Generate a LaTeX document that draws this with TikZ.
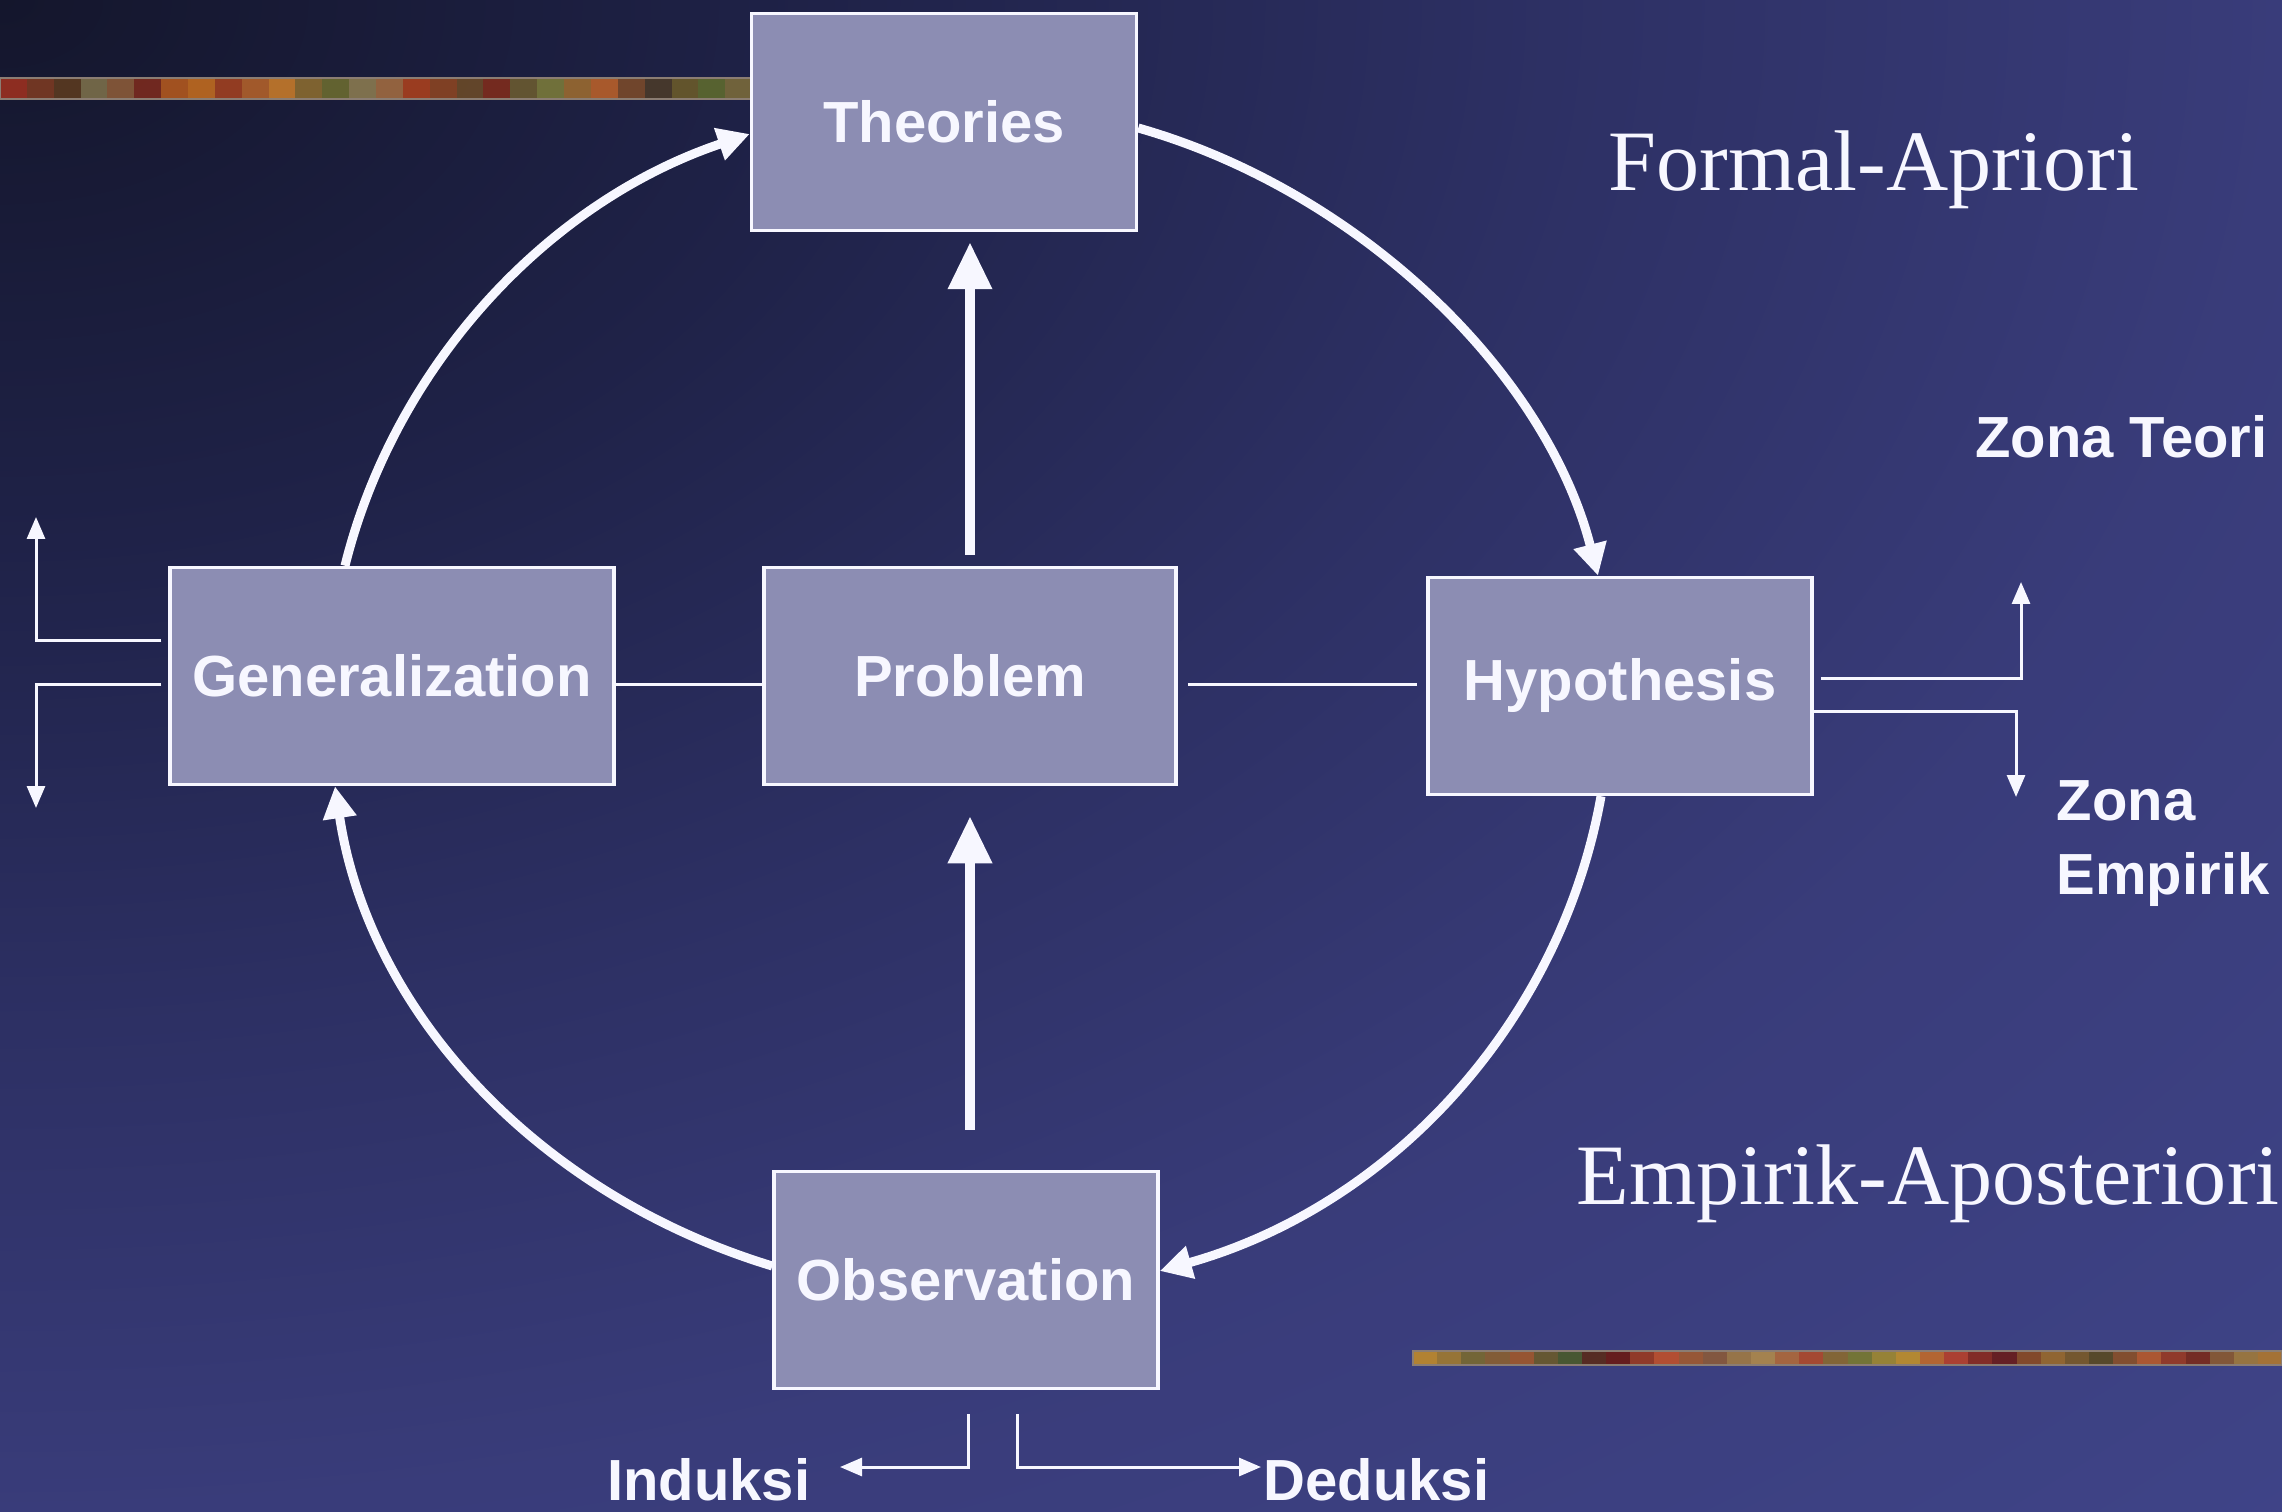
\documentclass[tikz,border=0pt]{standalone}
\usepackage{fontspec}
\setmainfont{Liberation Serif}
\setsansfont{Liberation Sans}
\usetikzlibrary{arrows.meta}
\definecolor{boxfill}{HTML}{8C8DB3}
\definecolor{ink}{HTML}{F7F7FF}
\definecolor{bgA}{HTML}{14162C}
\definecolor{bgB}{HTML}{1F2248}
\definecolor{bgC}{HTML}{2D3064}
\definecolor{bgD}{HTML}{393C7A}
\definecolor{bgE}{HTML}{3F4488}
\definecolor{stripeedge}{HTML}{8B7D73}
\pgfdeclareradialshading{bgshade}{\pgfpoint{0bp}{0bp}}{color(0bp)=(bgA); color(9bp)=(bgB); color(17bp)=(bgC); color(25bp)=(bgD); color(36bp)=(bgE); color(50bp)=(bgE)}

\begin{document}
\begin{tikzpicture}[x=0.1mm, y=-0.1mm,
    box/.style={draw=ink, line width=0.35mm, fill=boxfill, text=ink, minimum height=21.7mm, inner sep=0pt,
        font=\sffamily\bfseries\fontsize{16.5}{21}\selectfont},
    lbl/.style={text=ink, inner sep=0pt, font=\sffamily\bfseries\fontsize{16.5}{21}\selectfont},
    big/.style={text=ink, inner sep=0pt, font=\rmfamily\fontsize{24.5}{29}\selectfont},
    ring/.style={draw=ink, line width=0.9mm, -{Triangle[length=3.2mm, width=3.2mm]}},
    upar/.style={draw=ink, line width=1mm, -{Triangle[length=4.7mm, width=4.2mm]}},
    link/.style={draw=ink, line width=0.3mm},
    zone/.style={link, -{Triangle[length=2.2mm, width=1.8mm]}}]
    \useasboundingbox (0,0) rectangle (2282,1512);
    \begin{scope}
        \clip (0,0) rectangle (2282,1512);
        \shade[shading=bgshade] (-2282,-1512) rectangle (2282,1512);
    \end{scope}
    \foreach \c [count=\i from 0] in {9A3020,7A3A22,5A3A20,7A6E4A,8A5A38,7A2A1E,B0581E,C06A20,A04020,B0602A,C57A2A,8A6A30,6A6A30,8A7A50,A06A40,A8401E,8A4422,6A4A28,7E2C1C,6A5A30,7A7A3A,9A6A30,B8602A,7A4A2A,4A3A2A,6A5A2A,5E6A2E,7A6A3A}
        {\definecolor{seg}{HTML}{\c}\fill[seg, opacity=0.9] (\i*26.86,78) rectangle ++(26.86,21);}
    \draw[stripeedge, line width=0.25mm] (0,78) rectangle (752,99);
    \foreach \c [count=\i from 0] in {C08A2A,A07A30,7A6A30,8A6030,A0582A,6A5A2A,4A5A2A,5A2A1A,6A1A14,9A3A20,C0502A,A05A30,8A5A3A,A07A44,B08A4A,B06A3A,B04A2A,8A6A30,7A7A30,A08A30,C0902A,C06A2A,B8402A,8A2A1E,6A1C1A,8A4A22,9A6A2A,7A5A28,5A4A22,8A5028,B85A2A,9A3A22,7A2A1A,8A5A30,A07A3A,B0782E}
        {\definecolor{seg}{HTML}{\c}\fill[seg, opacity=0.9] (1413+\i*24.14,1351) rectangle ++(24.14,14);}
    \draw[stripeedge, line width=0.2mm] (1413,1351) rectangle (2282,1365);

    \node[box, minimum width=38.5mm] (theo) at (944,122) {Theories};
    \node[box, minimum width=41.2mm] (prob) at (970,676) {Problem};
    \node[box, minimum width=44.4mm] (gen) at (392,676) {Generalization};
    \node[box, minimum width=38.4mm] (hyp) at (1620,686) {Hypothesis};
    \node[box, minimum width=38.4mm] (obs) at (966,1280) {Observation};

    \node[big, anchor=base] (fa) at (1874,191) {Formal-Apriori};
    \node[big, anchor=base] (ea) at (1928,1204) {Empirik-Aposteriori};
    \node[lbl, anchor=base east] (zt) at (2268,458) {Zona Teori};
    \node[lbl, anchor=north west, align=left] (ze) at (2056,780) {Zona\\Empirik};
    \node[lbl, anchor=base east] (ind) at (811,1500) {Induksi};
    \node[lbl, anchor=base west] (ded) at (1263,1500) {Deduksi};

    \coordinate (gup) at (36,517);
    \coordinate (gdn) at (36,808);
    \coordinate (hup) at (2021,582);
    \coordinate (hdn) at (2016,797);
    \coordinate (itip) at (840,1467);
    \coordinate (dtip) at (1261,1467);

    \draw[ring] ([xshift=-4.7mm]gen.north) .. controls +(49,-197) and +(-205,69) .. ([yshift=-1.2mm]theo.west);
    \draw[ring] ([yshift=-0.6mm]theo.east) .. controls +(218,62) and +(-53,-206) .. ([xshift=-2.2mm]hyp.north);
    \draw[ring] ([xshift=-1.9mm]hyp.south) .. controls +(-40,224) and +(234,-66) .. ([yshift=0.9mm]obs.east);
    \draw[ring] ([yshift=1.4mm]obs.west) .. controls +(-234,-71) and +(34,226) .. ([xshift=-5.7mm]gen.south);

    \draw[upar, shorten <=1.1mm, shorten >=1mm] (prob.north) -- (prob.north |- theo.south);
    \draw[upar, shorten <=4mm, shorten >=3mm] (obs.north -| prob.south) -- (prob.south);

    \draw[link] ([yshift=-0.8mm]gen.east) -- ([yshift=-0.8mm]prob.west);
    \draw[link, shorten <=1mm, shorten >=0.9mm] ([yshift=-0.8mm]prob.east) -- ([yshift=-0.8mm]prob.east -| hyp.west);

    \draw[zone] ([xshift=-0.7mm, yshift=3.6mm]gen.west) -| (gup);
    \draw[zone] ([xshift=-0.7mm, yshift=-0.8mm]gen.west) -| (gdn);
    \draw[zone] ([xshift=0.7mm, yshift=0.8mm]hyp.east) -| (hup);
    \draw[zone] ([yshift=-2.5mm]hyp.east) -| (hdn);
    \draw[zone] ([xshift=0.2mm, yshift=-2.4mm]obs.south) |- (itip);
    \draw[zone] ([xshift=5.1mm, yshift=-2.4mm]obs.south) |- (dtip);
\end{tikzpicture}
\end{document}
